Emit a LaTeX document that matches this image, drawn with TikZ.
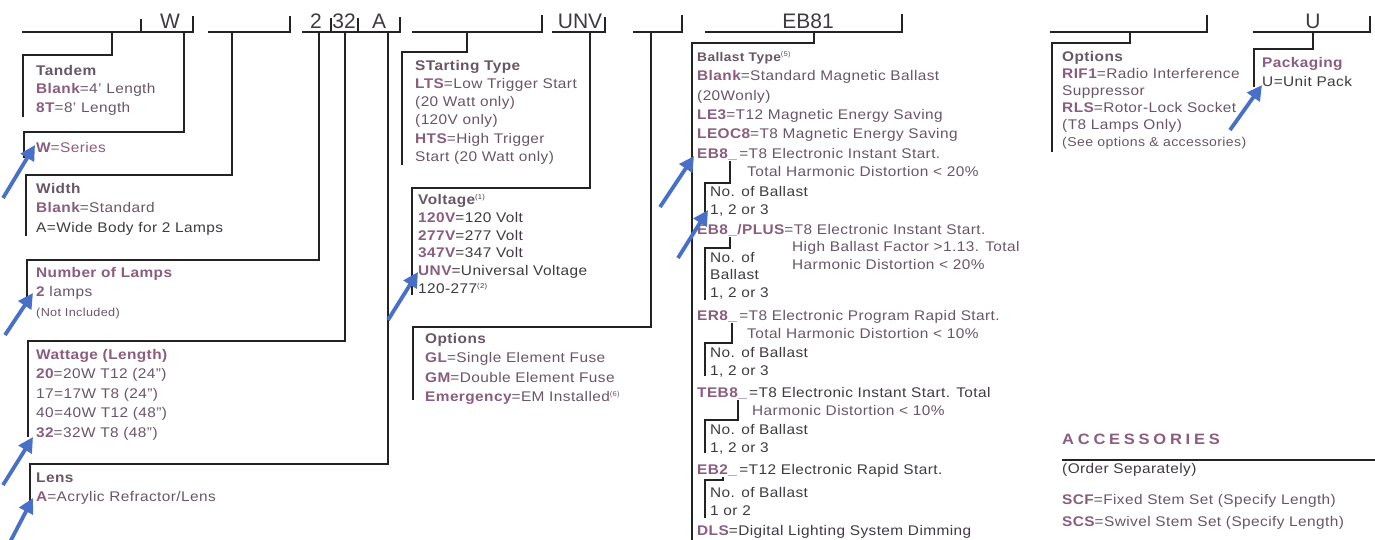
\documentclass[tikz,border=0pt]{standalone}
\usepackage{fontspec}
\setmainfont{Liberation Sans}[FakeStretch=1.1,LetterSpace=3]
\newfontfamily\codefont{Liberation Sans}
\usetikzlibrary{arrows.meta}
\definecolor{mauve}{RGB}{138,92,126}
\definecolor{ink}{RGB}{104,86,100}
\definecolor{dark}{RGB}{62,58,64}
\definecolor{rulecol}{RGB}{35,35,35}
\definecolor{pointer}{RGB}{72,112,200}
\newcommand{\cd}[1]{\textbf{\color{mauve}#1}}
\newcommand{\hd}[1]{\textbf{\color{ink}#1}}
\newcommand{\fn}[1]{\textsuperscript{\fontsize{7}{8}\selectfont(#1)}}
\tikzset{
  seg/.style={draw=rulecol, line width=1.5pt},
  bracket/.style={draw=rulecol, line width=1.4pt},
  box/.style={anchor=north west, yshift=11pt, inner sep=0pt, align=left, text=ink,
    font=\fontsize{14}{#1}\selectfont, execute at begin node={\rule{0pt}{11pt}}},
  box/.default=18.5,
  code/.style={anchor=base, inner sep=0pt, text=dark, font=\codefont\fontsize{21}{21}\selectfont},
  pointer/.style={draw=pointer, line width=3.8pt, -{Triangle[length=15pt,width=15pt]}}
}

\begin{document}
\begin{tikzpicture}[x=1pt,y=-1pt]
\useasboundingbox (0,0) rectangle (1375,539);

% code fields along the top
\node[code] (cW) at (170,28) {W};
\node[code] (c2) at (316,28) {2};
\node[code] (c32) at (344,28) {32};
\node[code] (cA) at (379,28) {A};
\node[code] (cUNV) at (580,28) {UNV};
\node[code] (cEB) at (808,28) {EB81};
\node[code] (cU) at (1313,28) {U};

\draw[seg] (22,32) -- (193,32) -- (193,16);
\draw[seg] (141,19) -- (141,32);
\draw[seg] (208,32) -- (290,32) -- (290,16);
\draw[seg] (302,32) -- (400,32) -- (400,17);
\draw[seg] (331,18) -- (331,32);
\draw[seg] (358,18) -- (358,32);
\draw[seg] (412,32) -- (542,32) -- (542,15);
\draw[seg] (552,32) -- (605,32) -- (605,17);
\draw[seg] (633,32) -- (682,32) -- (682,15);
\draw[seg] (705,32) -- (902,32) -- (902,14);
\draw[seg] (1050,32) -- (1207,32) -- (1207,15);
\draw[seg] (1253,32) -- (1370,32) -- (1370,16);

\coordinate (tTandem) at (112,32);
\coordinate (tSeries) at (184,32);
\coordinate (tWidth) at (232,32);
\coordinate (tLamps) at (319,32);
\coordinate (tWatt) at (345,32);
\coordinate (tLens) at (388,32);
\coordinate (tStart) at (467,32);
\coordinate (tVolt) at (590,32);
\coordinate (tOpts) at (651,32);
\coordinate (tBallast) at (814,32);
\coordinate (tRif) at (1130,32);
\coordinate (tPack) at (1313,32);

% left column
\node[box] (tandem) at (36,76) {\hd{Tandem}\\ \cd{Blank}=4' Length\\ \cd{8T}=8' Length};
\node[box] (series) at (36,152) {\cd{W}{\color{mauve}=Series}};
\node[box=19.5] (width) at (36,194) {\hd{Width}\\ \cd{Blank}=Standard\\ {\color{dark}A=Wide Body for 2 Lamps}};
\node[box=19.5] (lamps) at (36,278) {\cd{Number of Lamps}\\ \cd{2} lamps\\ {\fontsize{11.5}{12}\selectfont (Not Included)}};
\node[box=19.5] (watt) at (36,360) {\cd{Wattage (Length)}\\ \cd{20}=20W T12 (24")\\ 17=17W T8 (24")\\ 40=40W T12 (48")\\ \cd{32}=32W T8 (48")};
\node[box=19] (lens) at (36,484) {\hd{Lens}\\ \cd{A}=Acrylic Refractor/Lens};

% middle columns
\node[box=18.2] (start) at (415,71) {\hd{STarting Type}\\ \cd{LTS}=Low Trigger Start\\ (20 Watt only)\\ (120V only)\\ \cd{HTS}=High Trigger\\ Start (20 Watt only)};
\node[box=17.8, text=dark] (volt) at (418,205) {\hd{Voltage}\fn{1}\\ \cd{120V}=120 Volt\\ \cd{277V}=277 Volt\\ \cd{347V}=347 Volt\\ \cd{UNV}=Universal Voltage\\ 120-277\fn{2}};
\node[box=19.5] (opts) at (425,344) {\hd{Options}\\ \cd{GL}=Single Element Fuse\\ \cd{GM}=Double Element Fuse\\ \cd{Emergency}=EM Installed\fn{6}};

% ballast column
\node[box=19.3] (ballast) at (697,62) {\hd{\fontsize{12.5}{14}\selectfont Ballast Type}\fn{5}\\ \cd{Blank}=Standard Magnetic Ballast\\ (20Wonly)\\ \cd{LE3}=T12 Magnetic Energy Saving\\ \cd{LEOC8}=T8 Magnetic Energy Saving\\ \cd{EB8\_}\,=T8 Electronic Instant Start.};
\node[box] (thd1) at (747,176) {Total Harmonic Distortion < 20\%};
\node[box, text=dark] (nob1) at (710,197) {No. of Ballast\\ 1, 2 or 3};
\node[box] (plus) at (697,234) {\cd{EB8\_/PLUS}=T8 Electronic Instant Start.};
\node[box] (hbf) at (792,252) {High Ballast Factor >1.13. Total\\ Harmonic Distortion < 20\%};
\node[box=17.5, text=dark] (nob2) at (710,263) {No. of\\ Ballast\\ 1, 2 or 3};
\node[box] (er8) at (697,320) {\cd{ER8\_}\,=T8 Electronic Program Rapid Start.};
\node[box] (thd2) at (747,338) {Total Harmonic Distortion < 10\%};
\node[box, text=dark] (nob3) at (710,358) {No. of Ballast\\ 1, 2 or 3};
\node[box, text=dark] (teb8) at (697,397) {\cd{TEB8\_}\,=T8 Electronic Instant Start. Total};
\node[box] (thd3) at (752,415) {Harmonic Distortion < 10\%};
\node[box, text=dark] (nob4) at (710,435) {No. of Ballast\\ 1, 2 or 3};
\node[box, text=dark] (eb2) at (697,474) {\cd{EB2\_}\,=T12 Electronic Rapid Start.};
\node[box, text=dark] (nob5) at (710,498) {No. of Ballast\\ 1 or 2};
\node[box, text=dark] (dls) at (697,535) {\cd{DLS}=Digital Lighting System Dimming};

% right side
\node[box=17] (rif) at (1062,62) {\hd{Options}\\ \cd{RIF1}=Radio Interference\\ Suppressor\\ \cd{RLS}=Rotor-Lock Socket\\ (T8 Lamps Only)\\ {\fontsize{12.8}{13}\selectfont (See options \& accessories)}};
\node[box=19] (pack) at (1262,68) {\cd{Packaging}\\ {\color{dark}U=Unit Pack}};

\node[box, font=\fontsize{15}{18}\selectfont] (acc) at (1062,444) {\textbf{\color{mauve}\addfontfeature{LetterSpace=25}ACCESSORIES}};
\draw[seg] (acc.north west) ++(0,27) -- (1375,460);
\node[box, text=dark] (ordsep) at (1062,473) {(Order Separately)};
\node[box=22] (stems) at (1062,505) {\cd{SCF}=Fixed Stem Set (Specify Length)\\ \cd{SCS}=Swivel Stem Set (Specify Length)};

% brackets from the code fields to the boxes
\draw[bracket] (tTandem) |- ([shift={(-13,-10)}]tandem.north west) -- ++(0,62);
\draw[bracket] (tSeries) |- ([shift={(-12,-9)}]series.north west) -- ++(0,26);
\draw[bracket] (tWidth) |- ([shift={(-10,-8)}]width.north west) -- ++(0,61);
\draw[bracket] (tLamps) |- ([shift={(-9,-7)}]lamps.north west) -- ++(0,43);
\draw[bracket] (tWatt) |- ([shift={(-8,-8)}]watt.north west) -- ++(0,96);
\draw[bracket] (tLens) |- ([shift={(-6,-9)}]lens.north west) -- ++(0,43);
\draw[bracket] (tStart) |- ([shift={(-13,-8)}]start.north west) -- ++(0,113);
\draw[bracket] (tVolt) |- ([shift={(-6,-6)}]volt.north west) -- ++(0,107);
\draw[bracket] (tOpts) |- ([shift={(-12,-6)}]opts.north west) -- ++(0,73);
\draw[bracket] (tBallast) |- ([shift={(-5,-8)}]ballast.north west) -- ++(0,500);
\draw[bracket] (tRif) |- ([shift={(-10,-8)}]rif.north west) -- ++(0,109);
\draw[bracket] (tPack) |- ([shift={(-8,-8)}]pack.north west) -- ++(0,38);

% No. of Ballast sub-brackets
\draw[bracket] (nob1.north west) ++(20,-25) |- ++(-25,22) -- ++(0,29);
\draw[bracket] (nob2.north west) ++(20,-15) |- ++(-25,11) -- ++(0,52);
\draw[bracket] (nob3.north west) ++(22,-24) |- ++(-27,20) -- ++(0,33);
\draw[bracket] (nob4.north west) ++(28,-24) |- ++(-33,20) -- ++(0,33);
\draw[bracket] (nob5.north west) ++(13,-10) |- ++(-18,3) -- ++(0,38);

% blue pointers
\draw[pointer] ([shift={(-1,4)}]series.north west) ++(-32,53) -- ++(32,-53);
\draw[pointer] ([shift={(-3,26)}]lamps.north west) ++(-28,42) -- ++(28,-42);
\draw[pointer] ([shift={(-3,88)}]watt.north west) ++(-30,48) -- ++(30,-48);
\draw[pointer] ([shift={(-3,25)}]lens.north west) ++(-23,44) -- ++(23,-44);
\draw[pointer] ([shift={(0,78)}]volt.north west) ++(-30,48) -- ++(30,-48);
\draw[pointer] ([shift={(-3,105)}]ballast.north west) ++(-34,51) -- ++(34,-51);
\draw[pointer] ([shift={(-2,24)}]nob1.north west) ++(-30,48) -- ++(30,-48);
\draw[pointer] ([shift={(0,28)}]pack.north west) ++(-32,45) -- ++(32,-45);
\end{tikzpicture}
\end{document}
